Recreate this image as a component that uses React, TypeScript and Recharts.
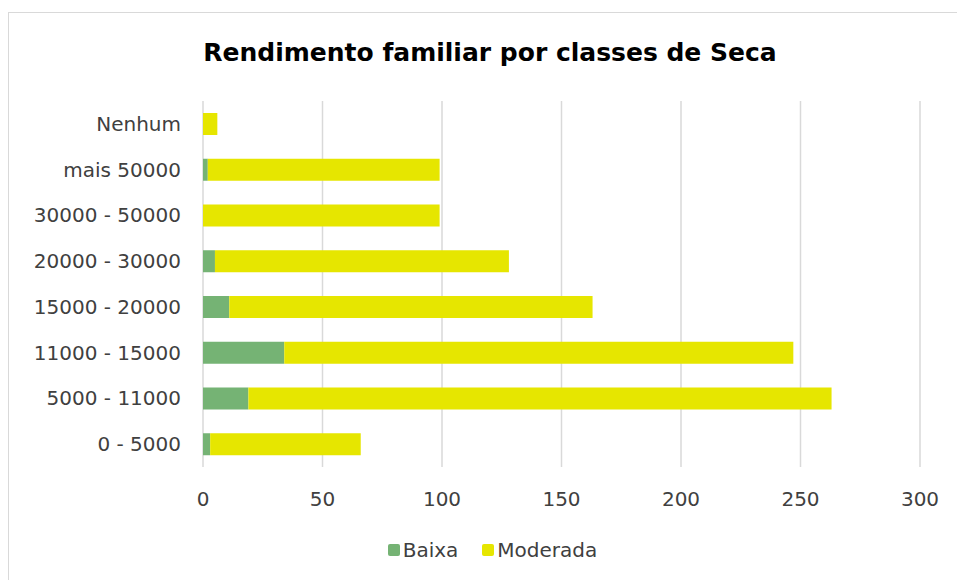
import { BarChart, Bar, XAxis, YAxis, CartesianGrid, Legend } from 'recharts'

const categories = [
  'Nenhum',
  'mais 50000',
  '30000 - 50000',
  '20000 - 30000',
  '15000 - 20000',
  '11000 - 15000',
  '5000 - 11000',
  '0 - 5000',
]
const baixa = [0, 2, 0, 5, 11, 34, 19, 3]
const moderada = [6, 97, 99, 123, 152, 213, 244, 63]
const xTicks = [0, 50, 100, 150, 200, 250, 300]

const GREEN = '#75B374'
const YELLOW = '#E6E600'
const FONT = '"DejaVu Sans", sans-serif'

const data = categories.map((name, i) => ({
  name,
  Baixa: baixa[i],
  Moderada: moderada[i],
}))

function LegendBox() {
  const items = [
    { label: 'Baixa', color: GREEN },
    { label: 'Moderada', color: YELLOW },
  ]
  return (
    <div
      style={{
        display: 'flex',
        justifyContent: 'center',
        alignItems: 'center',
        height: 30,
        paddingLeft: 28,
        fontFamily: FONT,
        fontSize: 20,
        color: '#404040',
      }}
    >
      {items.map((it, i) => (
        <div key={it.label} style={{ display: 'flex', alignItems: 'center', marginLeft: i ? 24 : 0 }}>
          <span
            style={{
              display: 'inline-block',
              width: 12,
              height: 12,
              borderRadius: 2,
              background: it.color,
              marginRight: 3,
            }}
          />
          <span>{it.label}</span>
        </div>
      ))}
    </div>
  )
}

export default function App() {
  return (
    <div style={{ position: 'relative', width: 957, height: 580, background: '#fff', overflow: 'hidden' }}>
      <style>{`body { margin: 0; }`}</style>
      <div
        style={{
          position: 'absolute',
          left: 8,
          top: 12,
          width: 980,
          height: 600,
          border: '1.5px solid #d9d9d9',
        }}
      />
      <div
        style={{
          position: 'absolute',
          left: 0,
          top: 38,
          width: 980,
          textAlign: 'center',
          fontFamily: FONT,
          fontWeight: 'bold',
          fontSize: 25,
          lineHeight: '30px',
          color: '#000',
        }}
      >
        Rendimento familiar por classes de Seca
      </div>
      <BarChart
        width={957}
        height={580}
        data={data}
        layout="vertical"
        margin={{ top: 101, right: 37, left: 0, bottom: 15 }}
        style={{ position: 'absolute', left: 0, top: 0 }}
      >
        <CartesianGrid horizontal={false} stroke="#d9d9d9" strokeWidth={1.5} />
        <XAxis
          type="number"
          domain={[0, 300]}
          ticks={xTicks}
          axisLine={false}
          tickLine={false}
          tickSize={0}
          tickMargin={25}
          height={68}
          tick={{ fill: '#404040', fontSize: 20, fontFamily: FONT }}
          interval={0}
        />
        <YAxis
          type="category"
          dataKey="name"
          width={203}
          axisLine={false}
          tickLine={false}
          tickSize={0}
          tickMargin={22}
          tick={{ fill: '#404040', fontSize: 20, fontFamily: FONT }}
          interval={0}
        />
        <Legend verticalAlign="bottom" height={30} content={() => <LegendBox />} wrapperStyle={{ left: 0, width: 957 }} />
        <Bar dataKey="Baixa" stackId="a" fill={GREEN} barSize={22} isAnimationActive={false} />
        <Bar dataKey="Moderada" stackId="a" fill={YELLOW} barSize={22} isAnimationActive={false} />
      </BarChart>
    </div>
  )
}
